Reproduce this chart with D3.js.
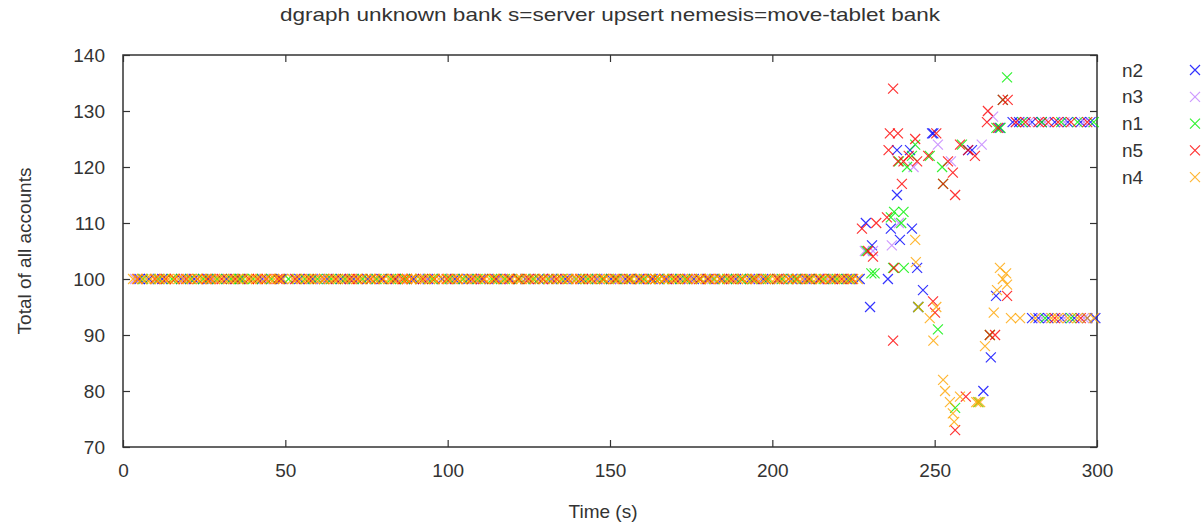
<!DOCTYPE html>
<html>
<head>
<meta charset="utf-8">
<script src="https://cdn.jsdelivr.net/npm/d3@7"></script>
<style>
  body { margin: 0; background: #fff; }
  text { font-family: "Liberation Sans", Arial, sans-serif; fill: #333; }
</style>
</head>
<body>
<svg id="chart" width="1204" height="527"></svg>
<script>
const title = 'dgraph unknown bank s=server upsert nemesis=move-tablet bank';
const xTicks = [0, 50, 100, 150, 200, 250, 300];
const yTicks = [70, 80, 90, 100, 110, 120, 130, 140];
const baseline = 100;

// times (s) where each node read the expected total of 100
const n2Flat = [5.1, 8.0, 12.1, 17.9, 21.9, 26.3, 31.9, 36.2, 42.8, 48.8, 54.3, 58.4, 63.0, 67.1, 71.0, 75.3, 79.6, 84.1, 89.6, 94.0, 98.3, 102.2, 106.4, 110.3, 115.1, 119.3, 123.9, 128.0, 132.2, 136.3, 141.7, 145.9, 150.3, 154.8, 158.9, 163.1, 167.5, 171.6, 175.8, 180.0, 184.6, 188.8, 193.1, 197.2, 201.9, 206.0, 210.2, 214.3, 218.6, 222.9, 226.9];
const n3Flat = [3.8, 10.6, 18.8, 27.8, 34.1, 43.5, 52.9, 61.0, 70.1, 77.8, 85.4, 93.6, 101.0, 108.1, 116.4, 124.6, 131.7, 138.6, 146.3, 153.2, 160.1, 167.9, 174.5, 181.4, 188.1, 195.5, 202.7, 209.6, 216.9, 224.0];
const n1Flat = [6.2, 11.0, 15.1, 20.8, 24.7, 29.0, 33.3, 35.8, 37.0, 40.1, 45.7, 51.0, 56.0, 59.9, 64.1, 68.4, 73.8, 78.1, 82.5, 86.9, 91.5, 95.3, 100.6, 104.8, 109.2, 113.7, 117.6, 122.0, 126.4, 130.9, 135.1, 139.5, 143.2, 147.6, 152.0, 156.4, 160.5, 165.0, 169.1, 173.2, 177.9, 182.0, 186.1, 190.3, 194.0, 198.7, 203.0, 207.2, 211.6, 215.8, 219.9, 223.8];
const n5Flat = [4.5, 9.8, 13.2, 16.0, 19.5, 23.0, 25.8, 27.1, 30.4, 34.6, 38.8, 41.5, 44.2, 47.6, 48.4, 53.1, 57.3, 61.9, 65.5, 69.8, 72.3, 76.4, 80.0, 83.7, 86.2, 87.5, 88.9, 92.4, 96.0, 99.7, 103.1, 107.5, 111.0, 114.6, 118.9, 121.7, 125.0, 129.3, 133.5, 137.2, 140.8, 144.4, 148.1, 151.6, 155.9, 159.3, 162.6, 164.0, 166.8, 170.2, 173.9, 177.5, 180.4, 183.9, 187.3, 190.9, 194.6, 198.0, 201.5, 204.9, 207.7, 211.2, 214.6, 218.1, 221.4, 224.6];
const n4Flat = [3.1, 4.4, 5.9, 7.2, 8.6, 10.1, 11.3, 12.8, 14.0, 15.7, 17.1, 18.4, 19.9, 21.2, 22.8, 24.1, 25.5, 26.9, 28.3, 29.6, 31.2, 32.5, 33.9, 35.4, 36.7, 38.2, 39.6, 41.0, 42.3, 43.9, 45.2, 46.6, 48.1, 49.3, 52.2, 53.6, 55.0, 56.5, 57.8, 59.1, 60.7, 62.0, 63.4, 64.9, 66.2, 67.7, 69.0, 70.5, 71.9, 73.2, 74.8, 76.1, 77.5, 78.9, 80.3, 81.8, 83.1, 84.6, 85.9, 87.4, 88.8, 90.2, 91.6, 93.0, 94.5, 95.8, 97.3, 98.6, 100.1, 101.5, 102.9, 104.3, 105.8, 107.1, 108.6, 109.9, 111.4, 112.8, 114.2, 115.6, 117.1, 118.4, 119.9, 121.3, 122.7, 124.1, 125.6, 126.9, 128.4, 129.8, 131.2, 132.6, 134.1, 135.4, 136.9, 138.3, 139.7, 141.2, 142.5, 144.0, 145.4, 146.8, 148.3, 149.6, 151.1, 152.5, 153.9, 155.4, 156.7, 158.2, 159.6, 161.0, 162.4, 163.9, 165.3, 166.6, 168.1, 169.5, 170.9, 172.4, 173.7, 175.2, 176.6, 178.0, 179.5, 180.8, 182.3, 183.7, 185.1, 186.6, 187.9, 189.4, 190.8, 192.2, 193.7, 195.0, 196.5, 197.9, 199.3, 200.8, 202.1, 203.6, 205.0, 206.4, 207.9, 209.2, 210.7, 212.1, 213.5, 215.0, 216.3, 217.8, 219.2, 220.6, 222.1, 223.4, 224.9, 226.3];

// [time, total] reads after the nemesis started moving tablets
const n2Late = [[228.8, 110], [230.1, 95], [230.7, 106], [235.6, 100], [236.5, 109], [238.4, 115], [238.4, 123], [239.3, 107], [242.4, 123], [243.0, 109], [244.6, 102], [244.9, 95], [246.4, 98], [249.2, 126], [249.6, 126], [260.3, 123], [261.5, 123], [265.0, 80], [267.3, 86], [268.9, 97], [270.0, 127], [274, 128], [276, 128], [280, 128], [283, 128], [287, 128], [291, 128], [295, 128], [298, 128], [280, 93], [282, 93], [285, 93], [289, 93], [293, 93], [297, 93], [299.5, 93]];
const n3Late = [[228.5, 105], [231.0, 105], [236.8, 106], [239.0, 110], [243.5, 120], [251.0, 124], [255.0, 121], [264.5, 124], [268.0, 129], [271.0, 132], [275, 128], [279, 128], [284, 128], [290, 128], [296, 128], [283, 93], [290, 93], [296, 93]];
const n1Late = [[229.0, 105], [230.5, 101], [231.5, 101], [236.5, 111], [237.5, 112], [237.2, 102], [239.0, 121], [239.7, 110], [240.4, 112], [240.5, 102], [241.5, 120], [243.0, 122], [244.0, 124], [245.0, 95], [248.5, 122], [251.0, 91], [252.3, 120], [252.6, 117], [256.3, 77], [258.4, 124], [263.5, 78], [267.0, 90], [269.0, 127], [270.3, 127], [271.0, 132], [272.3, 136], [277, 128], [283, 128], [289, 128], [294, 128], [299, 128], [284, 93], [292, 93]];
const n5Late = [[227.6, 109], [229.5, 105], [231.0, 104], [232.0, 110], [235.3, 111], [235.8, 123], [236.2, 126], [237.2, 134], [237.2, 89], [237.5, 102], [238.7, 126], [238.7, 121], [239.9, 117], [240.4, 121], [242.0, 122], [244.0, 125], [244.6, 121], [248.0, 122], [249.5, 96], [250.1, 94], [250.5, 126], [252.6, 117], [254.1, 121], [255.6, 119], [256.3, 73], [256.3, 115], [257.8, 124], [259.6, 79], [260.3, 123], [262.4, 122], [266.1, 128], [266.4, 130], [267.0, 90], [268.6, 90], [269.5, 127], [271.0, 132], [272.3, 97], [272.5, 132], [275, 128], [278, 128], [282, 128], [285, 128], [288, 128], [292, 128], [297, 128], [287, 93], [295, 93]];
const n4Late = [[244.0, 107], [244.2, 103], [245.0, 95], [248.5, 93], [249.6, 89], [250.5, 95], [252.6, 82], [253.2, 80], [254.7, 78], [255.6, 76], [256.0, 74.5], [257.8, 79], [262.8, 78], [263.3, 78], [264.0, 78], [265.5, 88], [268.2, 94], [269.2, 98], [270.1, 102], [271.0, 100], [272.0, 101], [272.3, 99], [273.5, 93], [276.3, 93], [281, 93], [286, 93], [288, 93], [291, 93], [294, 93], [297, 93], [299, 93]];

const nodes = ['n2', 'n3', 'n1', 'n5', 'n4'];
const colors = ['#0000ff', '#c080ff', '#00f000', '#ff0000', '#ffa500'];
const flats = [n2Flat, n3Flat, n1Flat, n5Flat, n4Flat];
const lates = [n2Late, n3Late, n1Late, n5Late, n4Late];

const series = nodes.map((name, i) => ({
  name: name,
  color: colors[i],
  points: flats[i].map(t => [t, baseline]).concat(lates[i])
}));

const svg = d3.select('#chart');
const margin = {left: 123, right: 1097, top: 55, bottom: 447};

const x = d3.scaleLinear().domain([0, 300]).range([margin.left, margin.right]);
const y = d3.scaleLinear().domain([70, 140]).range([margin.bottom, margin.top]);

//Axes with inward ticks, mirrored on top and right
svg.append('g')
  .attr('transform', `translate(0,${margin.bottom})`)
  .call(d3.axisBottom(x).tickValues(xTicks).tickSize(-7).tickPadding(17))
  .call(g => g.select('.domain').remove());
svg.append('g')
  .attr('transform', `translate(0,${margin.top})`)
  .call(d3.axisTop(x).tickValues(xTicks).tickSize(-7).tickFormat(''))
  .call(g => g.select('.domain').remove());
svg.append('g')
  .attr('transform', `translate(${margin.left},0)`)
  .call(d3.axisLeft(y).tickValues(yTicks).tickSize(-7).tickPadding(18))
  .call(g => g.select('.domain').remove());
svg.append('g')
  .attr('transform', `translate(${margin.right},0)`)
  .call(d3.axisRight(y).tickValues(yTicks).tickSize(-7).tickFormat(''))
  .call(g => g.select('.domain').remove());

svg.selectAll('.tick line').attr('stroke', '#333').attr('stroke-width', 1.2);
svg.selectAll('.tick text').style('font-size', '19px').attr('fill', '#333');

svg.append('rect')
  .attr('x', margin.left)
  .attr('y', margin.top)
  .attr('width', margin.right - margin.left)
  .attr('height', margin.bottom - margin.top)
  .attr('fill', 'none')
  .attr('stroke', '#333')
  .attr('stroke-width', 1.5);

const cross = 'M-5,-5L5,5M-5,5L5,-5';

series.forEach(s => {
  svg.append('g')
    .selectAll('path')
    .data(s.points)
    .join('path')
    .attr('d', cross)
    .attr('transform', d => `translate(${x(d[0])},${y(d[1])})`)
    .attr('stroke', s.color)
    .attr('stroke-opacity', 0.8)
    .attr('stroke-width', 1.2)
    .attr('fill', 'none');
});

//Legend
const legend = svg.append('g');
series.forEach((s, i) => {
  const ly = 70 + i * 26.8;
  legend.append('text')
    .attr('x', 1122)
    .attr('y', ly)
    .attr('dy', '0.35em')
    .style('font-size', '19px')
    .text(s.name);
  legend.append('path')
    .attr('d', cross)
    .attr('transform', `translate(1195,${ly})`)
    .attr('stroke', s.color)
    .attr('stroke-opacity', 0.8)
    .attr('stroke-width', 1.2)
    .attr('fill', 'none');
});

svg.append('text')
  .attr('x', 610)
  .attr('y', 21)
  .attr('text-anchor', 'middle')
  .attr('textLength', 660)
  .attr('lengthAdjust', 'spacingAndGlyphs')
  .style('font-size', '19px')
  .text(title);

svg.append('text')
  .attr('x', 603)
  .attr('y', 518)
  .attr('text-anchor', 'middle')
  .style('font-size', '19px')
  .text('Time (s)');

svg.append('text')
  .attr('transform', 'translate(31,251) rotate(-90)')
  .attr('text-anchor', 'middle')
  .style('font-size', '19px')
  .text('Total of all accounts');
</script>
</body>
</html>
